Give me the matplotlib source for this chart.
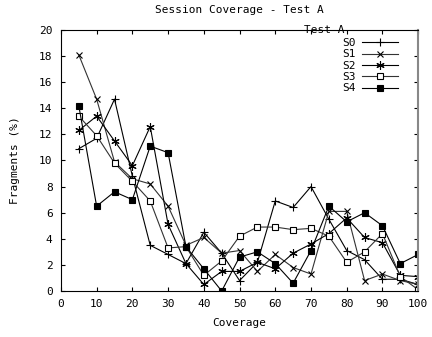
import matplotlib
matplotlib.use("Agg")
import matplotlib.pyplot as plt

coverage = [5, 10, 15, 20, 25, 30, 35, 40, 45, 50, 55, 60, 65, 70, 75, 80, 85, 90, 95, 100]
s0 = [10.9, 11.7, 14.7, 8.8, 3.5, 2.8, 2.1, 4.5, 2.9, 0.8, 2.2, 6.9, 6.4, 8.0, 5.5, 3.1, 2.4, 0.9, 0.9, 0.5]
s1 = [18.1, 14.7, 9.9, 8.6, 8.2, 6.5, 3.5, 4.1, 2.9, 3.1, 1.5, 2.8, 1.8, 1.3, 6.1, 6.1, 0.8, 1.3, 0.8, 0.5]
s2 = [12.3, 13.4, 11.5, 9.6, 12.6, 5.1, 2.1, 0.5, 1.5, 1.5, 2.2, 1.7, 2.9, 3.6, 4.4, 5.6, 4.1, 3.7, 1.2, 1.1]
s3 = [13.4, 11.9, 9.8, 8.4, 6.9, 3.3, 3.4, 1.2, 2.3, 4.2, 4.9, 4.9, 4.7, 4.8, 4.2, 2.2, 3.0, 4.4, 1.1, 0.1]
s4 = [14.2, 6.5, 7.6, 7.0, 11.1, 10.6, 3.4, 1.7, 0.0, 2.6, 3.0, 2.1, 0.6, 3.1, 6.5, 5.3, 6.0, 5.0, 2.1, 2.8]

# name, values, marker, line colour, marker size, face colour
series = [("S0", s0, "+", "black", 6, "black"),
          ("S1", s1, "x", "#333333", 4.5, "black"),
          ("S2", s2, (6, 2, 0), "black", 6, "black"),
          ("S3", s3, "s", "#333333", 4.5, "white"),
          ("S4", s4, "s", "black", 5, "black")]

plt.rcParams['font.family'] = ['DejaVu Sans Mono']
fig = plt.figure(figsize=(4.32, 3.37), dpi=100)
ax = fig.add_axes([0.141, 0.1365, 0.827, 0.7745])

for name, vals, mk, col, ms, fc in series:
    ax.plot(coverage, vals, color=col, lw=0.8, marker=mk, markersize=ms,
            markerfacecolor=fc, markeredgecolor="black", markeredgewidth=0.8, label=name)

ax.set_xlim(0, 100)
ax.set_ylim(0, 20)
ax.set_xticks(range(0, 101, 10))
ax.set_yticks(range(0, 21, 2))
ax.tick_params(direction="in", top=True, right=True, length=3, labelsize=8, pad=6)
for sp in ax.spines.values():
    sp.set_linewidth(0.8)
ax.spines["right"].set_color("#888888")
ax.spines["right"].set_linewidth(1.5)

ax.set_xlabel("Coverage", fontsize=8, labelpad=6)
ax.set_ylabel("Fragments (%)", fontsize=8, labelpad=14)
ax.set_title("Session Coverage - Test A", fontsize=8, pad=12)

ax.legend(loc="upper right", bbox_to_anchor=(0.958, 0.99), markerfirst=False, frameon=False,
          fontsize=8, handlelength=3.2, labelspacing=0.12, borderpad=0, handletextpad=0.6)
ax.text(0.737, 1.0, "Test A", transform=ax.transAxes, ha="center", va="center", fontsize=8)

fig.savefig("out.png", dpi=100)
